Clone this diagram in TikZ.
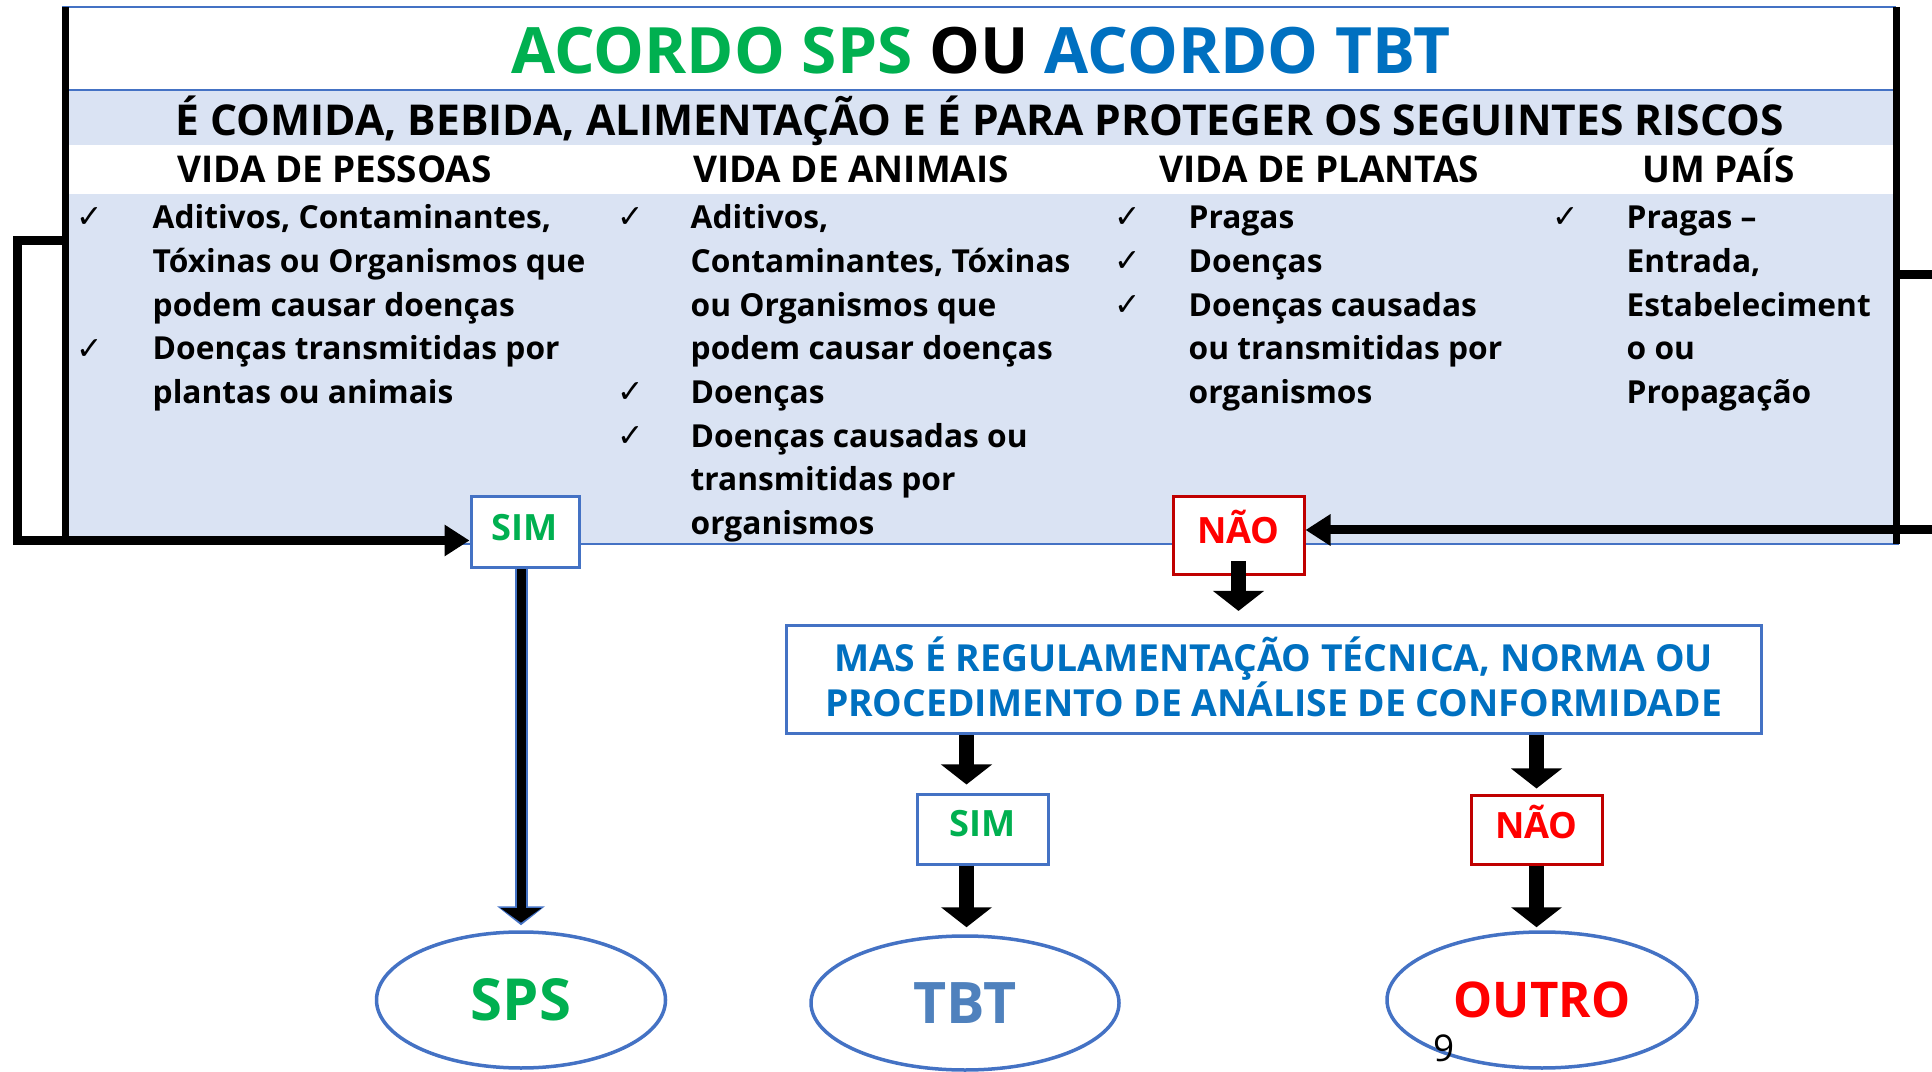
\documentclass[tikz,border=0pt]{standalone}
\usepackage{fontspec}
\setmainfont{Open Sans}
\newfontfamily\CheckFont{DejaVu Sans}
\usetikzlibrary{arrows.meta,shapes.geometric}

\definecolor{SpsGreen}{HTML}{00B050}
\definecolor{TbtBlue}{HTML}{0070C0}
\definecolor{OvalBlue}{HTML}{4472C4}
\definecolor{TbtOvalText}{HTML}{4F81BD}
\definecolor{NaoRed}{HTML}{FF0000}
\definecolor{NaoBorder}{HTML}{C00000}
\definecolor{PanelFill}{HTML}{DAE3F3}

\begin{document}
\begin{tikzpicture}[
		Answer/.style={draw, fill=white, line width=0.03cm, minimum height=0.71cm, text height=0.26cm, text depth=0.10cm, font=\fontsize{10.3}{12}\selectfont\bfseries},
		SimBox/.style={Answer, draw=OvalBlue, text=SpsGreen},
		NaoBox/.style={Answer, draw=NaoBorder, text=NaoRed},
		Outcome/.style={ellipse, draw=OvalBlue, line width=0.035cm, fill=white, inner sep=0pt},
		BlockArrow/.style={draw=black, line width=0.15cm, -{Triangle[width=0.50cm,length=0.20cm]}},
		LoopArrow/.style={draw=black, line width=0.09cm, -{Triangle[width=0.30cm,length=0.25cm]}},
		ColHead/.style={anchor=base, inner sep=0pt, font=\fontsize{10.5}{12}\selectfont\bfseries},
		RiskList/.style={anchor=north west, inner sep=0pt, font=\fontsize{9.02}{12.43}\selectfont\bfseries},
		Tick/.style={anchor=base, inner sep=0pt, font=\fontsize{9}{10}\selectfont\CheckFont}
	]

		\useasboundingbox (0,0) rectangle (19.32,10.71);

		%% panel with the four kinds of risk
		\fill[PanelFill] (0.65,9.81) rectangle (18.96,9.26);
		\fill[PanelFill] (0.65,8.77) rectangle (18.96,5.27);
		\draw[OvalBlue, line width=0.02cm] (0.62,10.64) -- (18.96,10.64);
		\draw[OvalBlue, line width=0.025cm] (0.65,9.81) -- (18.96,9.81);
		\draw[OvalBlue, line width=0.025cm] (0.65,5.27) -- (18.99,5.27);
		\draw[black, line width=0.07cm] (0.65,10.64) -- (0.65,5.27);
		\draw[black, line width=0.07cm] (18.96,10.64) -- (18.96,5.27);

		\node[anchor=base, inner sep=0pt, font=\fontsize{18.2}{22}\selectfont\bfseries] (Title) at (9.81,9.97) {\textcolor{SpsGreen}{ACORDO SPS} OU \textcolor{TbtBlue}{ACORDO TBT}};
		\node[anchor=base, inner sep=0pt, font=\fontsize{12.1}{14}\selectfont\bfseries] (Question) at (9.795,9.35) {É COMIDA, BEBIDA, ALIMENTAÇÃO E É PARA PROTEGER OS SEGUINTES RISCOS};

		\node[ColHead] (HeadPessoas) at (3.345,8.88) {VIDA DE PESSOAS};
		\node[ColHead] (HeadAnimais) at (8.51,8.88) {VIDA DE ANIMAIS};
		\node[ColHead] (HeadPlantas) at (13.195,8.88) {VIDA DE PLANTAS};
		\node[ColHead] (HeadPais) at (17.185,8.88) {UM PAÍS};

		\node[RiskList] (ListPessoas) at (1.52,8.736) {\begin{tabular}{@{}l@{}}Aditivos, Contaminantes,\\Tóxinas ou Organismos que\\podem causar doenças\\Doenças transmitidas por\\plantas ou animais\end{tabular}};
		\node[RiskList] (ListAnimais) at (6.90,8.736) {\begin{tabular}{@{}l@{}}Aditivos,\\Contaminantes, Tóxinas\\ou Organismos que\\podem causar doenças\\Doenças\\Doenças causadas ou\\transmitidas por\\organismos\end{tabular}};
		\node[RiskList] (ListPlantas) at (11.88,8.736) {\begin{tabular}{@{}l@{}}Pragas\\Doenças\\Doenças causadas\\ou transmitidas por\\organismos\end{tabular}};
		\node[RiskList] (ListPais) at (16.26,8.736) {\begin{tabular}{@{}l@{}}Pragas –\\Entrada,\\Estabeleciment\\o ou\\Propagação\end{tabular}};

		\node[Tick] (TickP1) at (0.90,8.43) {✓};
		\node[Tick] (TickP2) at (0.90,7.119) {✓};
		\node[Tick] (TickA1) at (6.31,8.43) {✓};
		\node[Tick] (TickA2) at (6.31,6.682) {✓};
		\node[Tick] (TickA3) at (6.31,6.245) {✓};
		\node[Tick] (TickV1) at (11.28,8.43) {✓};
		\node[Tick] (TickV2) at (11.28,7.993) {✓};
		\node[Tick] (TickV3) at (11.28,7.556) {✓};
		\node[Tick] (TickU1) at (15.66,8.43) {✓};

		%% answers and outcomes
		\node[SimBox, minimum width=1.08cm] (SimTop) at (5.25,5.385) {SIM};
		\node[NaoBox, minimum width=1.31cm, minimum height=0.78cm] (NaoTop) at (12.385,5.35) {NÃO};

		\node[draw=OvalBlue, fill=white, line width=0.03cm, minimum width=9.75cm, minimum height=1.05cm, align=center, text=TbtBlue, text depth=0.05cm, font=\fontsize{10.6}{12.8}\selectfont\bfseries] (TechRule) at (12.735,3.915) {MAS É REGULAMENTAÇÃO TÉCNICA, NORMA OU\\PROCEDIMENTO DE ANÁLISE DE CONFORMIDADE};

		\node[SimBox, minimum width=1.31cm, minimum height=0.70cm] (SimLow) at (9.825,2.42) {SIM};
		\node[NaoBox, minimum width=1.31cm, minimum height=0.68cm] (NaoLow) at (15.365,2.41) {NÃO};

		\node[Outcome, minimum width=2.89cm, minimum height=1.36cm, text=SpsGreen, font=\fontsize{16.5}{18}\selectfont\bfseries] (Sps) at (5.21,0.71) {SPS};
		\node[Outcome, minimum width=3.08cm, minimum height=1.34cm, text=TbtOvalText, font=\fontsize{16.3}{18}\selectfont\bfseries] (Tbt) at (9.65,0.68) {TBT};
		\node[Outcome, minimum width=3.10cm, minimum height=1.36cm, text=NaoRed, font=\fontsize{14}{16}\selectfont\bfseries] (Outro) at (15.42,0.71) {OUTRO};

		\coordinate (LoopLeft) at (0.65,8.30);
		\coordinate (LoopRight) at (18.96,7.96);

		\draw[LoopArrow] (LoopLeft) -- (0.17,8.30) |- ([yshift=-0.08cm]SimTop.west);
		\draw[LoopArrow] (LoopRight) -- (19.45,7.96) |- ([yshift=0.06cm]NaoTop.east);

		\draw[line width=0.13cm, OvalBlue, -{Triangle[width=0.47cm,length=0.19cm]}, shorten >=0.05cm] (SimTop.south -| Sps.north) to (Sps.north);
		\draw[line width=0.09cm, black, -{Triangle[width=0.40cm,length=0.145cm]}, shorten >=0.076cm] (SimTop.south -| Sps.north) to (Sps.north);

		\draw[BlockArrow, shorten <=-0.15cm, shorten >=0.13cm] (NaoTop.south) to (NaoTop.south |- TechRule.north);
		\draw[BlockArrow, shorten >=0.08cm] ([xshift=-0.16cm]SimLow.north |- TechRule.south) to ([xshift=-0.16cm]SimLow.north);
		\draw[BlockArrow, shorten >=0.07cm] ([xshift=-0.16cm]SimLow.south) to ([xshift=-0.16cm]SimLow.south |- Tbt.north);
		\draw[BlockArrow, shorten >=0.06cm] (NaoLow.north |- TechRule.south) to (NaoLow.north);
		\draw[BlockArrow, shorten >=0.03cm] (NaoLow.south) to (NaoLow.south |- Outro.north);

		\node[anchor=north, inner sep=0pt, font=\fontsize{10.5}{12}\selectfont] (PageNum) at (14.44,0.37) {9};
	\end{tikzpicture}
\end{document}
